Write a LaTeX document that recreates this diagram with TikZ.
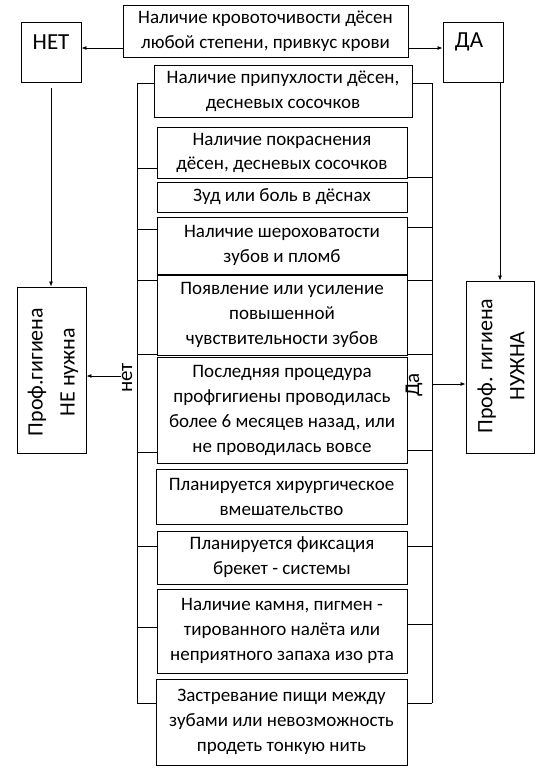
\documentclass[tikz,border=0pt]{standalone}
\usepackage{fontspec}
\setmainfont{Carlito}
\usetikzlibrary{arrows.meta}
\tikzset{
  every picture/.style={line width=0.9pt},
  bx/.style={draw, line width=0.9pt, align=center, inner sep=0pt, font=\fontsize{19}{25}\selectfont},
  plain/.style={draw, line width=0.9pt, inner sep=0pt},
  rotlbl/.style={rotate=90, inner sep=0pt, align=center},
  arr/.style={-{Latex[length=5pt,width=4pt]}, line width=0.8pt},
  lnk/.style={line width=0.8pt}
}
\begin{document}
\begin{tikzpicture}[x=1pt,y=-1pt]
\useasboundingbox (0,0) rectangle (545,777);
% top question
\node[bx, minimum width=285, minimum height=52] (top) at (265.5,31) {Наличие кровоточивости дёсен\\любой степени, привкус крови};
% yes/no boxes
\node[plain, minimum width=60, minimum height=60] (net) at (51,52) {};
\node[font=\fontsize{23}{25}\selectfont, inner sep=0pt] (nettxt) at (51,42) {НЕТ};
\node[plain, minimum width=60, minimum height=60] (da) at (473,52) {};
\node[font=\fontsize{23}{25}\selectfont, inner sep=0pt] (datxt) at (469,42) {ДА};
% result boxes
\node[plain, minimum width=69, minimum height=166] (prof) at (51.5,370) {};
\node[rotlbl, font=\fontsize{22}{32}\selectfont] (proftxt) at (53,372) {Проф.гигиена\\НЕ нужна};
\node[plain, minimum width=68, minimum height=172] (nuzh) at (500,367) {};
\node[rotlbl, font=\fontsize{22}{32}\selectfont] (nuzhtxt) at (501,366) {Проф. гигиена\\НУЖНА};
% criteria boxes
\node[bx, minimum width=258, minimum height=52] (b1) at (283,91) {Наличие припухлости дёсен,\\десневых сосочков};
\node[bx, minimum width=250, minimum height=51] (b2) at (282,152.5) {Наличие покраснения\\[-1pt]дёсен, десневых сосочков};
\node[bx, minimum width=250, minimum height=30] (b3) at (282,197) {Зуд или боль в дёснах};
\node[bx, minimum width=250, minimum height=57] (b4) at (282,245.5) {Наличие шероховатости\\зубов и пломб};
\node[bx, minimum width=250, minimum height=80] (b5) at (282,315) {Появление или усиление\\повышенной\\чувствительности зубов};
\node[bx, minimum width=250, minimum height=106] (b6) at (282,410) {Последняя процедура\\профгигиены проводилась\\более 6 месяцев назад, или\\не проводилась вовсе};
\node[bx, minimum width=251, minimum height=55] (b7) at (281.5,496.5) {Планируется хирургическое\\вмешательство};
\node[bx, minimum width=250, minimum height=53] (b8) at (282,557.5) {Планируется фиксация\\брекет - системы};
\node[bx, minimum width=250, minimum height=84] (b9) at (282,631) {Наличие камня, пигмен -\\тированного налёта или\\неприятного запаха изо рта};
\node[bx, minimum width=251, minimum height=86] (b10) at (281.5,722) {Застревание пищи между\\зубами или невозможность\\продеть тонкую нить};
% bracket coordinates
\coordinate (lt) at (137,83);
\coordinate (lb) at (137,703);
\coordinate (rt) at (432,83);
\coordinate (rb) at (432,703);
\draw[lnk] (lt) -- (lb);
\draw[lnk] (rt) -- (rb);
% left ticks
\foreach \yy/\bb in {83/b1,168/b2,229/b4,280/b5,354/b5,452/b6,546/b8,627/b9,703/b10}
  {\draw[lnk] (137,\yy) -- (\bb.west |- 0,\yy);}
% right ticks
\foreach \yy/\bb in {83/b1,177/b2,227/b4,280/b5,354/b5,450/b6,546/b8,624/b9,703/b10}
  {\draw[lnk] (\bb.east |- 0,\yy) -- (432,\yy);}
% top arrows
\coordinate (ya) at (0,48);
\draw[arr] (top.west |- ya) -- (net.east |- ya);
\draw[arr] (top.east |- ya) -- (da.west |- ya);
% down arrows
\draw[arr] ([yshift=-6pt]net.south) -- (net.south |- prof.north);
\draw[arr] (nuzh.north |- da.south) -- (nuzh.north);
% labels and side arrows
\node[rotlbl, font=\fontsize{21}{22}\selectfont] (netlbl) at (127,378) {нет};
\node[rotlbl, font=\fontsize{21}{22}\selectfont] (dalbl) at (414,385) {Да};
\coordinate (ynet) at (0,376);
\coordinate (yda) at (0,384);
\draw[arr] (121,376) -- (prof.east |- ynet);
\draw[arr] (rt |- yda) -- (nuzh.west |- yda);
\end{tikzpicture}
\end{document}
